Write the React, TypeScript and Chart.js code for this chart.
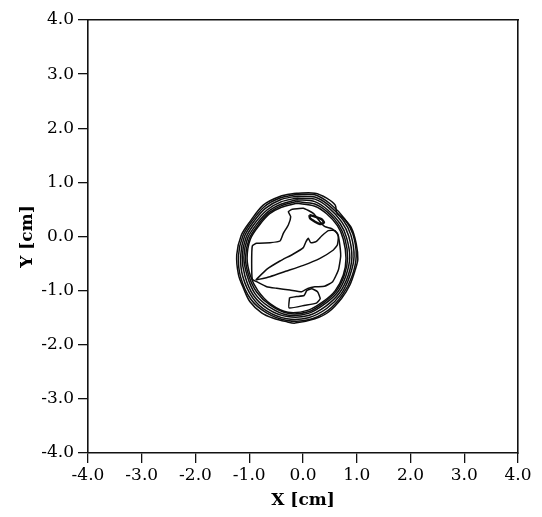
import React, { useEffect, useRef } from "react";
import { Chart, registerables } from "chart.js";

Chart.register(...registerables);

// Axis range in cm
const AXIS_MIN = -4;
const AXIS_MAX = 4;
const AXIS_STEP = 1;

// Tightly packed outer iso-lines (outermost first), [x, y] in cm
const ring0: [number, number][] = [
  [-0.13, 0.8], [0.22, 0.8], [0.44, 0.71], [0.6, 0.58], [0.63, 0.43], [0.75, 0.34],
  [0.9, 0.16], [0.99, -0.13], [1.02, -0.42], [0.97, -0.62], [0.87, -0.9], [0.72, -1.14],
  [0.47, -1.4], [0.22, -1.52], [-0.15, -1.6], [-0.3, -1.575], [-0.55, -1.51], [-0.77, -1.41],
  [-0.99, -1.2], [-1.11, -0.95], [-1.2, -0.71], [-1.233, -0.34], [-1.15, 0.02], [-0.99, 0.27],
  [-0.74, 0.58], [-0.43, 0.74],
];
const ring1: [number, number][] = [
  [-0.13, 0.775], [0.22, 0.77], [0.51, 0.6], [0.78, 0.32], [0.93, 0.04], [0.99, -0.36],
  [0.91, -0.74], [0.74, -1.07], [0.46, -1.37], [0.1, -1.54], [-0.3, -1.55], [-0.68, -1.41],
  [-0.97, -1.16], [-1.16, -0.75], [-1.2, -0.35], [-1.12, 0.01], [-0.96, 0.27], [-0.72, 0.55],
  [-0.43, 0.71],
];
const ring2: [number, number][] = [
  [-0.13, 0.745], [0.22, 0.73], [0.49, 0.57], [0.75, 0.3], [0.89, 0.03], [0.95, -0.37],
  [0.87, -0.73], [0.71, -1.06], [0.44, -1.33], [0.1, -1.5], [-0.3, -1.52], [-0.67, -1.38],
  [-0.94, -1.13], [-1.12, -0.74], [-1.16, -0.36], [-1.09, 0.0], [-0.93, 0.26], [-0.7, 0.52],
  [-0.42, 0.68],
];
const ring3: [number, number][] = [
  [-0.12, 0.71], [0.22, 0.69], [0.48, 0.53], [0.72, 0.27], [0.85, 0.01], [0.91, -0.38],
  [0.84, -0.72], [0.68, -1.04], [0.42, -1.29], [0.1, -1.46], [-0.29, -1.48], [-0.65, -1.34],
  [-0.92, -1.09], [-1.08, -0.73], [-1.13, -0.37], [-1.06, -0.02], [-0.9, 0.24], [-0.67, 0.49],
  [-0.41, 0.64],
];
const ring4: [number, number][] = [
  [-0.12, 0.68], [0.22, 0.645], [0.46, 0.49], [0.69, 0.24], [0.81, -0.02], [0.87, -0.39],
  [0.8, -0.72], [0.65, -1.02], [0.4, -1.25], [0.1, -1.42], [-0.29, -1.45], [-0.63, -1.3],
  [-0.89, -1.06], [-1.04, -0.72], [-1.1, -0.38], [-1.03, -0.03], [-0.87, 0.22], [-0.65, 0.46],
  [-0.4, 0.6],
];
const ring5: [number, number][] = [
  [-0.12, 0.645], [0.22, 0.6], [0.45, 0.455], [0.66, 0.22], [0.78, -0.04], [0.83, -0.4],
  [0.77, -0.71], [0.62, -1.01], [0.39, -1.22], [0.1, -1.39], [-0.28, -1.42], [-0.61, -1.27],
  [-0.86, -1.03], [-1.01, -0.72], [-1.07, -0.39], [-1.0, -0.04], [-0.84, 0.21], [-0.63, 0.44],
  [-0.4, 0.57],
];
const ring6: [number, number][] = [
  [-0.12, 0.614], [0.22, 0.56], [0.44, 0.42], [0.64, 0.2], [0.75, -0.05], [0.8, -0.4],
  [0.75, -0.712], [0.6, -1.0], [0.38, -1.2], [0.1, -1.36], [-0.28, -1.4], [-0.6, -1.25],
  [-0.84, -1.0], [-0.98, -0.72], [-1.04, -0.4], [-0.98, -0.05], [-0.82, 0.2], [-0.62, 0.42],
  [-0.4, 0.54],
];

// Jagged inner iso-line
const innerLoop: [number, number][] = [
  [-0.211, 0.502], [-0.273, 0.459], [-0.229, 0.367], [-0.273, 0.213], [-0.366, 0.059],
  [-0.428, -0.083], [-0.614, -0.114], [-0.862, -0.126], [-0.943, -0.175], [-0.955, -0.496],
  [-0.943, -0.79], [-0.861, -0.835], [-0.675, -0.928], [-0.489, -0.957], [-0.242, -0.989],
  [-0.024, -1.02], [0.09, -0.96], [0.22, -0.93], [0.4, -0.92], [0.552, -0.835],
  [0.658, -0.619], [0.701, -0.36], [0.676, -0.095], [0.639, 0.059], [0.534, 0.145],
  [0.409, 0.182], [0.316, 0.274], [0.192, 0.428], [0.006, 0.521],
];

// Elongated diagonal core
const diagonalCore: [number, number][] = [
  [-0.88, -0.805], [-0.676, -0.607], [-0.428, -0.453], [-0.18, -0.323], [0.006, -0.206],
  [0.056, -0.095], [0.099, -0.034], [0.143, -0.114], [0.242, -0.095], [0.347, 0.009],
  [0.471, 0.108], [0.596, 0.108], [0.658, 0.009], [0.639, -0.157], [0.565, -0.249],
  [0.316, -0.403], [0.006, -0.533], [-0.304, -0.638], [-0.614, -0.742],
];

// Small upper-right island
const upperIsland: [number, number][] = [
  [0.118, 0.397], [0.223, 0.367], [0.347, 0.317], [0.391, 0.256], [0.316, 0.231],
  [0.223, 0.274], [0.131, 0.336],
];

// Small lower island
const lowerIsland: [number, number][] = [
  [-0.25, -1.13], [-0.12, -1.11], [0.02, -1.09], [0.07, -1.0], [0.16, -0.965],
  [0.27, -1.02], [0.32, -1.15], [0.25, -1.23], [0.04, -1.27], [-0.26, -1.32],
];

const rings = [ring0, ring1, ring2, ring3, ring4, ring5, ring6];

const LINE_COLOR = "#0d0d0d";
const TEXT_COLOR = "#000";
const TICK_FONT = { family: "'DejaVu Serif', serif", size: 17 };
const TITLE_FONT = { family: "'DejaVu Serif', serif", size: 17, weight: "bold" as const };

function closed(points: [number, number][]) {
  const pts = points.map(([x, y]) => ({ x, y }));
  pts.push({ x: points[0][0], y: points[0][1] });
  return pts;
}

function contourDataset(points: [number, number][], tension: number, width: number) {
  return {
    data: closed(points),
    showLine: true,
    borderColor: LINE_COLOR,
    borderWidth: width,
    pointRadius: 0,
    pointHoverRadius: 0,
    tension,
    fill: false,
  };
}

export default function App() {
  const canvasRef = useRef<HTMLCanvasElement | null>(null);

  useEffect(() => {
    if (!canvasRef.current) return;
    const datasets = [
      ...rings.map((r) => contourDataset(r, 0.3, 1.5)),
      contourDataset(innerLoop, 0.15, 1.5),
      contourDataset(diagonalCore, 0.15, 1.5),
      contourDataset(upperIsland, 0.2, 2.4),
      contourDataset(lowerIsland, 0.15, 1.5),
    ];

    const chart = new Chart(canvasRef.current, {
      type: "scatter",
      data: { datasets },
      options: {
        animation: false,
        responsive: false,
        events: [],
        layout: { padding: { top: 20, right: 24, left: 0, bottom: 0 } },
        plugins: { legend: { display: false }, tooltip: { enabled: false } },
        scales: {
          x: {
            type: "linear",
            position: "bottom",
            min: AXIS_MIN,
            max: AXIS_MAX,
            afterFit: (s: any) => { s.height = 64; },
            ticks: {
              stepSize: AXIS_STEP,
              color: TEXT_COLOR,
              font: TICK_FONT,
              padding: 2,
              maxRotation: 0,
              callback: (v: any) => Number(v).toFixed(1),
            },
            grid: { display: true, drawOnChartArea: false, drawTicks: true, tickLength: 10, color: "#111", lineWidth: 1.3 },
            border: { display: true, color: "#111", width: 1.6 },
            title: { display: true, text: "X [cm]", color: TEXT_COLOR, font: TITLE_FONT, padding: { top: 0, bottom: 6 } },
          },
          y: {
            type: "linear",
            position: "left",
            min: AXIS_MIN,
            max: AXIS_MAX,
            afterFit: (s: any) => { s.width = 88; },
            ticks: {
              stepSize: AXIS_STEP,
              color: TEXT_COLOR,
              font: TICK_FONT,
              padding: 4,
              callback: (v: any) => Number(v).toFixed(1),
            },
            grid: { display: true, drawOnChartArea: false, drawTicks: true, tickLength: 10, color: "#111", lineWidth: 1.3 },
            border: { display: true, color: "#111", width: 1.6 },
            title: { display: true, text: "Y [cm]", color: TEXT_COLOR, font: TITLE_FONT, padding: { top: 17, bottom: 0 } },
          },
          x2: {
            type: "linear",
            position: "top",
            min: AXIS_MIN,
            max: AXIS_MAX,
            afterFit: (s: any) => { s.height = 0; },
            ticks: { display: false },
            grid: { display: false, drawTicks: false },
            border: { display: true, color: "#111", width: 1.6 },
          },
          y2: {
            type: "linear",
            position: "right",
            min: AXIS_MIN,
            max: AXIS_MAX,
            afterFit: (s: any) => { s.width = 0; },
            ticks: { display: false },
            grid: { display: false, drawTicks: false },
            border: { display: true, color: "#111", width: 1.6 },
          },
        },
      },
    });
    return () => chart.destroy();
  }, []);

  return (
    <div style={{ position: "absolute", left: 0, top: 0, width: 542, height: 517, background: "#fff" }}>
      <canvas ref={canvasRef} width={542} height={517} style={{ display: "block" }} />
    </div>
  );
}
